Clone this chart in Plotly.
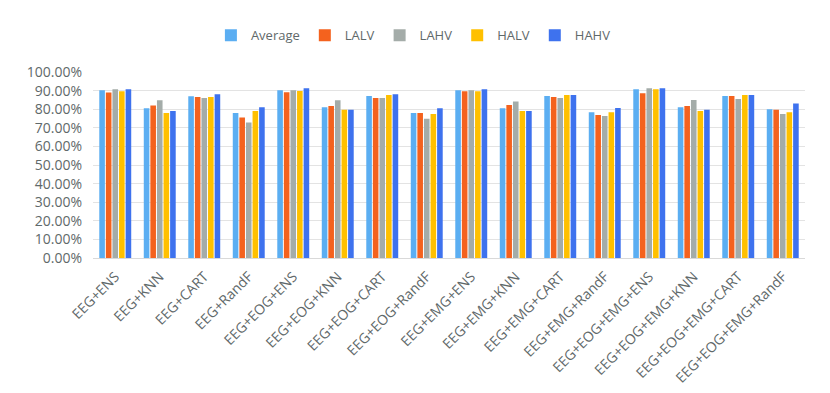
"""
Grouped bar chart - accuracy per feature set / classifier
"""

import plotly.graph_objects as go

categories = [
    "EEG+ENS", "EEG+KNN", "EEG+CART", "EEG+RandF",
    "EEG+EOG+ENS", "EEG+EOG+KNN", "EEG+EOG+CART", "EEG+EOG+RandF",
    "EEG+EMG+ENS", "EEG+EMG+KNN", "EEG+EMG+CART", "EEG+EMG+RandF",
    "EEG+EOG+EMG+ENS", "EEG+EOG+EMG+KNN", "EEG+EOG+EMG+CART", "EEG+EOG+EMG+RandF",
]

average = [0.902, 0.805, 0.869, 0.780, 0.902, 0.810, 0.871, 0.780,
           0.902, 0.805, 0.871, 0.784, 0.907, 0.810, 0.871, 0.800]
lalv = [0.890, 0.820, 0.866, 0.755, 0.891, 0.817, 0.860, 0.780,
        0.897, 0.822, 0.866, 0.769, 0.886, 0.817, 0.871, 0.797]
lahv = [0.907, 0.848, 0.860, 0.728, 0.902, 0.848, 0.860, 0.748,
        0.902, 0.841, 0.860, 0.764, 0.912, 0.850, 0.855, 0.774]
halv = [0.897, 0.780, 0.866, 0.790, 0.898, 0.797, 0.876, 0.774,
        0.897, 0.790, 0.876, 0.784, 0.907, 0.790, 0.876, 0.784]
hahv = [0.907, 0.790, 0.881, 0.810, 0.912, 0.797, 0.881, 0.805,
        0.907, 0.790, 0.876, 0.807, 0.912, 0.797, 0.876, 0.831]

series = [
    ("Average", average, "#5BAEF2"),
    ("LALV", lalv, "#F4621E"),
    ("LAHV", lahv, "#A4ACA9"),
    ("HALV", halv, "#FFC000"),
    ("HAHV", hahv, "#3E72EE"),
]

TEXT = "#5F696A"

fig = go.Figure()
for name, vals, color in series:
    fig.add_trace(go.Bar(
        x=categories,
        y=vals,
        name=name,
        marker=dict(color=color, line=dict(width=0)),
    ))

# page body adds an 8px offset, margins below account for it
fig.update_layout(
    width=830,
    height=393,
    barmode="group",
    bargap=0.26,
    bargroupgap=0.15,
    plot_bgcolor="white",
    paper_bgcolor="white",
    font=dict(family="Open Sans", color=TEXT, size=12),
    margin=dict(l=85, r=33, t=57, b=143),
    legend=dict(
        orientation="h",
        x=0.45, xanchor="center",
        y=1.197, yanchor="middle",
        font=dict(size=13, color=TEXT),
        itemwidth=30,
        traceorder="normal",
    ),
    xaxis=dict(
        tickangle=-45,
        tickfont=dict(size=14, color=TEXT),
        ticklabelstandoff=4,
        showline=True,
        linecolor="#D9D9D9",
        ticks="",
        automargin=False,
    ),
    yaxis=dict(
        range=[0, 1.0],
        dtick=0.1,
        tickformat=".2%",
        tickfont=dict(size=14, color=TEXT),
        ticklabelstandoff=10,
        gridcolor="#E3E3E3",
        zeroline=False,
        ticks="",
        automargin=False,
    ),
)

fig.write_html("out.html")
